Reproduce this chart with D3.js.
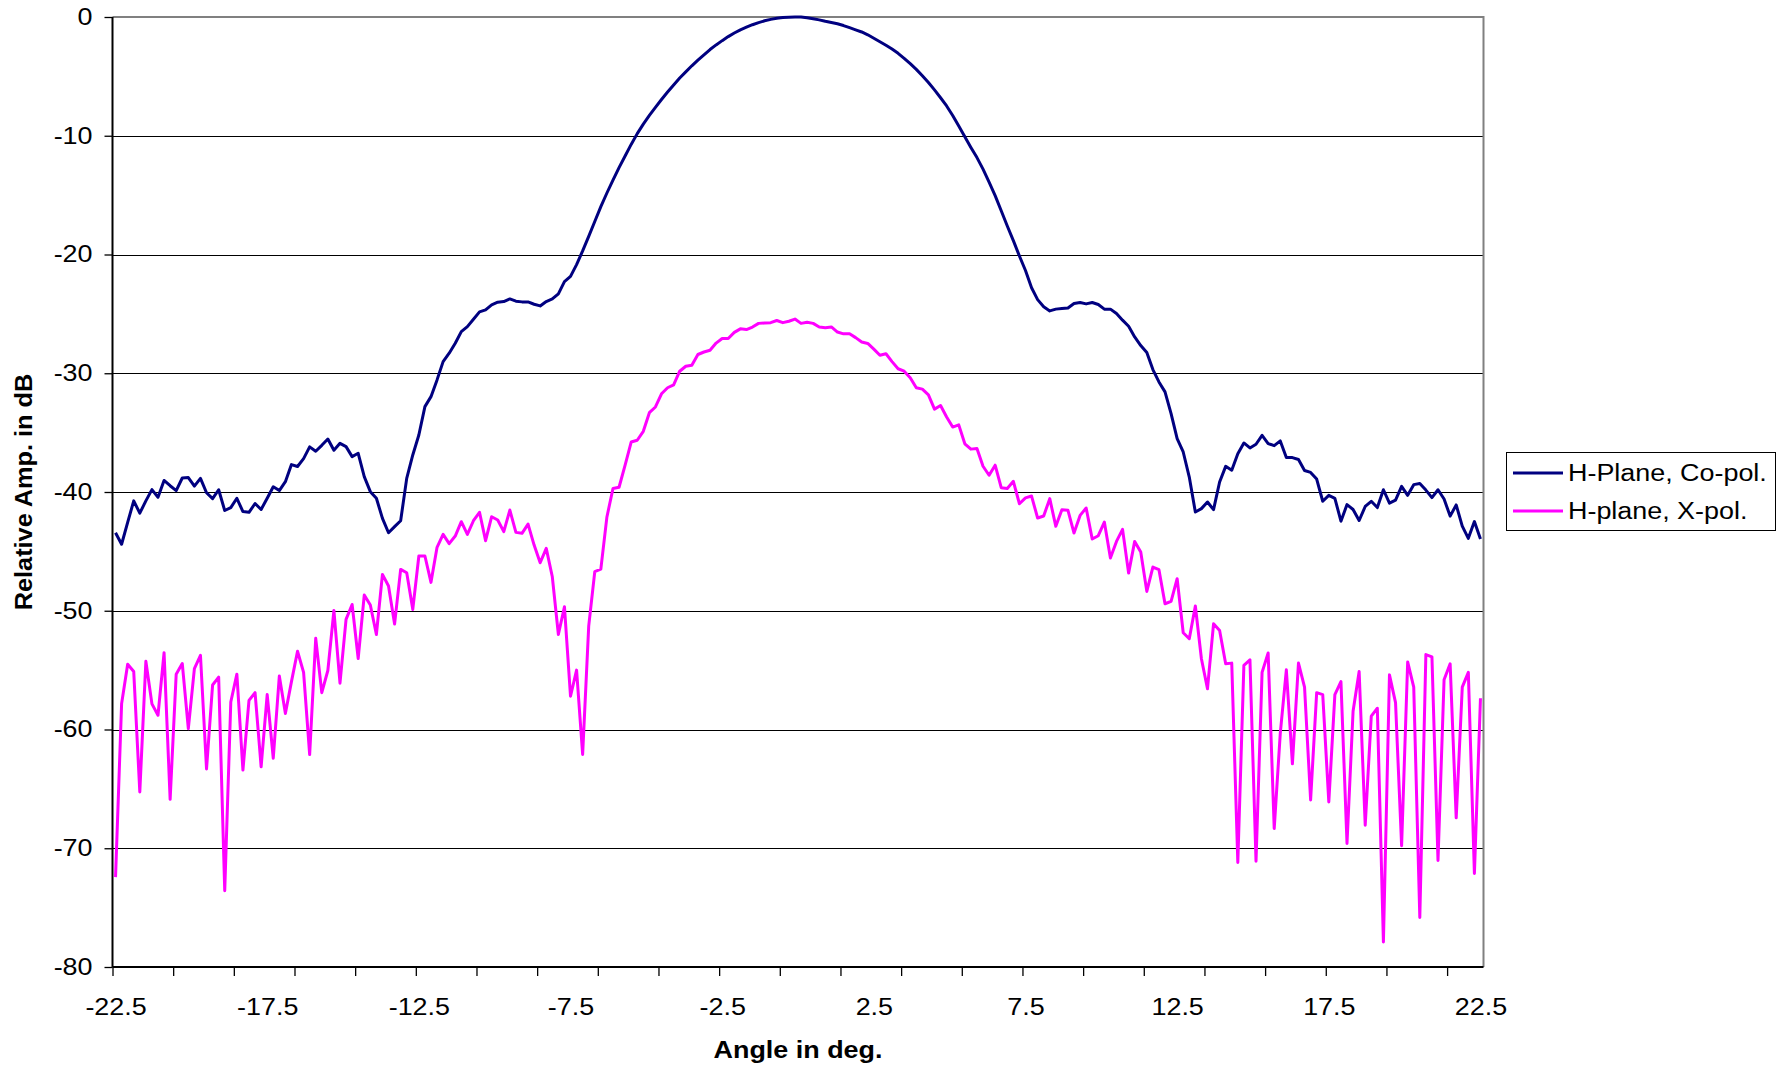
<!DOCTYPE html>
<html><head><meta charset="utf-8">
<script src="https://cdn.jsdelivr.net/npm/d3@7"></script>
<style>
body{margin:0;background:#fff}
svg{display:block}
text{font-family:"Liberation Sans",Arial,sans-serif;fill:#000}
</style>
</head><body>
<svg id="chart" width="1782" height="1070"></svg>
<script>
// ---- data ----
const angles = [
-22.5,-22.3,-22.1,-21.9,-21.7,-21.5,-21.3,-21.1,-20.9,-20.7,
-20.5,-20.3,-20.1,-19.9,-19.7,-19.5,-19.3,-19.1,-18.9,-18.7,
-18.5,-18.3,-18.1,-17.9,-17.7,-17.5,-17.3,-17.1,-16.9,-16.7,
-16.5,-16.3,-16.1,-15.9,-15.7,-15.5,-15.3,-15.1,-14.9,-14.7,
-14.5,-14.3,-14.1,-13.9,-13.7,-13.5,-13.3,-13.1,-12.9,-12.7,
-12.5,-12.3,-12.1,-11.9,-11.7,-11.5,-11.3,-11.1,-10.9,-10.7,
-10.5,-10.3,-10.1,-9.9,-9.7,-9.5,-9.3,-9.1,-8.9,-8.7,
-8.5,-8.3,-8.1,-7.9,-7.7,-7.5,-7.3,-7.1,-6.9,-6.7,
-6.5,-6.3,-6.1,-5.9,-5.7,-5.5,-5.3,-5.1,-4.9,-4.7,
-4.5,-4.3,-4.1,-3.9,-3.7,-3.5,-3.3,-3.1,-2.9,-2.7,
-2.5,-2.3,-2.1,-1.9,-1.7,-1.5,-1.3,-1.1,-0.9,-0.7,
-0.5,-0.3,-0.1,0.1,0.3,0.5,0.7,0.9,1.1,1.3,
1.5,1.7,1.9,2.1,2.3,2.5,2.7,2.9,3.1,3.3,
3.5,3.7,3.9,4.1,4.3,4.5,4.7,4.9,5.1,5.3,
5.5,5.7,5.9,6.1,6.3,6.5,6.7,6.9,7.1,7.3,
7.5,7.7,7.9,8.1,8.3,8.5,8.7,8.9,9.1,9.3,
9.5,9.7,9.9,10.1,10.3,10.5,10.7,10.9,11.1,11.3,
11.5,11.7,11.9,12.1,12.3,12.5,12.7,12.9,13.1,13.3,
13.5,13.7,13.9,14.1,14.3,14.5,14.7,14.9,15.1,15.3,
15.5,15.7,15.9,16.1,16.3,16.5,16.7,16.9,17.1,17.3,
17.5,17.7,17.9,18.1,18.3,18.5,18.7,18.9,19.1,19.3,
19.5,19.7,19.9,20.1,20.3,20.5,20.7,20.9,21.1,21.3,
21.5,21.7,21.9,22.1,22.3,22.5];

const coPol = [
-43.43,-44.4,-42.56,-40.75,-41.78,-40.75,-39.8,-40.44,-39.03,-39.47,
-39.88,-38.82,-38.78,-39.5,-38.85,-40.06,-40.56,-39.81,-41.56,-41.31,
-40.53,-41.65,-41.71,-40.97,-41.47,-40.53,-39.56,-39.88,-39.13,-37.69,
-37.85,-37.19,-36.2,-36.57,-36.07,-35.54,-36.48,-35.9,-36.18,-37.02,
-36.74,-38.71,-39.97,-40.53,-42.22,-43.43,-42.92,-42.42,-38.85,-36.88,
-35.2,-32.81,-31.97,-30.56,-29.02,-28.31,-27.47,-26.49,-26.07,-25.45,
-24.83,-24.66,-24.24,-24.02,-23.96,-23.74,-23.93,-23.99,-23.99,-24.19,
-24.33,-23.96,-23.74,-23.31,-22.28,-21.84,-20.85,-19.7,-18.47,-17.22,
-15.97,-14.82,-13.73,-12.68,-11.7,-10.73,-9.82,-9.02,-8.29,-7.61,
-6.95,-6.32,-5.72,-5.14,-4.62,-4.11,-3.63,-3.18,-2.74,-2.35,
-1.99,-1.65,-1.35,-1.08,-0.86,-0.65,-0.47,-0.32,-0.2,-0.11,
-0.05,-0.02,0,0,-0.06,-0.14,-0.24,-0.36,-0.46,-0.57,
-0.72,-0.9,-1.08,-1.26,-1.5,-1.79,-2.08,-2.38,-2.7,-3.06,
-3.48,-3.93,-4.41,-4.95,-5.52,-6.14,-6.8,-7.49,-8.29,-9.17,
-10.08,-10.98,-11.84,-12.81,-13.91,-15.04,-16.32,-17.6,-18.83,-20.13,
-21.35,-22.8,-23.8,-24.4,-24.75,-24.6,-24.55,-24.5,-24.13,-24.04,
-24.16,-24.04,-24.21,-24.6,-24.6,-24.97,-25.53,-26.04,-26.94,-27.67,
-28.26,-29.69,-30.73,-31.57,-33.4,-35.5,-36.63,-38.74,-41.69,-41.4,
-40.84,-41.49,-39.16,-37.84,-38.17,-36.77,-35.87,-36.29,-35.98,-35.23,
-35.92,-36.1,-35.7,-37.1,-37.1,-37.26,-38.19,-38.35,-38.91,-40.78,
-40.28,-40.53,-42.46,-41.06,-41.47,-42.4,-41.22,-40.78,-41.31,-39.81,
-40.94,-40.69,-39.53,-40.28,-39.38,-39.28,-39.84,-40.47,-39.81,-40.59,
-42.03,-41.09,-42.87,-43.9,-42.49,-43.96];

const xPol = [
-72.43,-57.84,-54.5,-55.12,-65.26,-54.25,-57.84,-58.8,-53.53,-65.88,
-55.34,-54.44,-59.93,-54.87,-53.75,-63.32,-56.25,-55.59,-73.58,-57.68,
-55.34,-63.42,-57.55,-56.9,-63.14,-57.06,-62.42,-55.5,-58.65,-55.97,
-53.41,-55.19,-62.11,-52.32,-56.9,-55.03,-49.98,-56.1,-50.73,-49.47,
-54.02,-48.68,-49.52,-52.0,-46.94,-47.92,-51.12,-46.52,-46.8,-49.89,
-45.39,-45.39,-47.61,-44.66,-43.57,-44.35,-43.71,-42.5,-43.57,-42.42,
-41.71,-44.1,-42.08,-42.36,-43.34,-41.52,-43.4,-43.48,-42.7,-44.47,
-45.96,-44.75,-47.14,-52.0,-49.66,-57.2,-55.0,-62.1,-51.3,-46.7,
-46.5,-42.1,-39.7,-39.6,-37.74,-35.79,-35.64,-34.89,-33.32,-32.84,
-31.73,-31.22,-30.98,-29.83,-29.41,-29.32,-28.42,-28.21,-28.06,-27.46,
-27.07,-27.07,-26.56,-26.26,-26.32,-26.11,-25.8,-25.77,-25.74,-25.56,
-25.74,-25.62,-25.44,-25.8,-25.71,-25.8,-26.1,-26.17,-26.1,-26.53,
-26.68,-26.68,-27.0,-27.37,-27.49,-27.97,-28.48,-28.36,-29.02,-29.62,
-29.83,-30.38,-31.22,-31.34,-31.82,-33.02,-32.72,-33.68,-34.53,-34.35,
-35.94,-36.39,-36.33,-37.83,-38.59,-37.74,-39.64,-39.7,-39.1,-40.99,
-40.5,-40.34,-42.19,-42.02,-40.56,-42.89,-41.49,-41.54,-43.46,-41.97,
-41.35,-43.96,-43.68,-42.53,-45.56,-44.16,-43.15,-46.83,-44.16,-45.06,
-48.37,-46.32,-46.54,-49.41,-49.21,-47.3,-51.85,-52.36,-49.6,-54.04,
-56.57,-51.1,-51.66,-54.47,-54.41,-71.2,-54.6,-54.13,-71.09,-55.19,
-53.56,-68.34,-60.33,-54.97,-62.89,-54.41,-56.43,-65.94,-56.9,-57.06,
-66.1,-57.06,-55.97,-69.59,-58.46,-55.12,-68.06,-58.87,-58.21,-77.89,
-55.4,-57.74,-69.78,-54.31,-56.43,-75.83,-53.69,-53.88,-71.03,-55.81,
-54.47,-67.44,-56.43,-55.19,-72.12,-57.37];

const yTickValues = [0,-10,-20,-30,-40,-50,-60,-70,-80];
const xTickLabels = [-22.5,-17.5,-12.5,-7.5,-2.5,2.5,7.5,12.5,17.5,22.5];
const seriesNames = ["H-Plane, Co-pol.","H-plane, X-pol."];
const seriesColors = ["#000080","#FF00FF"];
const xTitle = "Angle in deg.";
const yTitle = "Relative Amp. in dB";

// ---- layout ----
const P = {left:112.5, right:1483.5, top:17, bottom:967};
const SX = 1.17; // horizontal text stretch of the reference
const svg = d3.select("#chart");

// category axis: each category 0.2 deg wide, axis crosses between categories
const x = d3.scaleLinear().domain([-22.6, 22.6]).range([P.left, P.right]);
const y = d3.scaleLinear().domain([-80, 0]).range([P.bottom, P.top]);
const xTickMarks = d3.range(-22.6, 22.5, 2);

// gridlines
svg.append("g").selectAll("line").data(yTickValues.filter(v => v > -80 && v < 0)).join("line")
  .attr("x1", P.left).attr("x2", P.right)
  .attr("y1", d => Math.round(y(d)) + 0.5).attr("y2", d => Math.round(y(d)) + 0.5)
  .attr("stroke", "#000").attr("stroke-width", 1);

// plot border (top & right gray)
svg.append("path")
  .attr("d", `M${P.left},${P.top}H${P.right}V${P.bottom}`)
  .attr("fill", "none").attr("stroke", "#808080").attr("stroke-width", 2);

// y axis
const yAxis = svg.append("g").attr("transform", `translate(${P.left},0)`)
  .call(d3.axisLeft(y).tickValues(yTickValues).tickSize(8).tickPadding(12).tickFormat(d => String(d)));
yAxis.select(".domain").remove();
yAxis.selectAll(".tick line").attr("stroke", "#000").attr("stroke-width", 1.3);
yAxis.selectAll(".tick text")
  .attr("font-size", 23).attr("fill", "#000")
  .attr("font-family", '"Liberation Sans", Arial, sans-serif')
  .attr("transform", function(){ const X = +d3.select(this).attr("x"); return `translate(${X},0) scale(${SX},1) translate(${-X},0)`; });

// x axis tick marks
const xAxisMarks = svg.append("g").attr("transform", `translate(0,${P.bottom})`)
  .call(d3.axisBottom(x).tickValues(xTickMarks).tickSize(9).tickFormat(""));
xAxisMarks.select(".domain").remove();
xAxisMarks.selectAll(".tick line").attr("stroke", "#000").attr("stroke-width", 1.3);

// x axis labels
const xAxisLabels = svg.append("g").attr("transform", `translate(0,${P.bottom})`)
  .call(d3.axisBottom(x).tickValues(xTickLabels).tickSize(0).tickPadding(32).tickFormat(d => d.toFixed(1)));
xAxisLabels.select(".domain").remove();
xAxisLabels.selectAll(".tick text")
  .attr("font-size", 23).attr("fill", "#000")
  .attr("font-family", '"Liberation Sans", Arial, sans-serif')
  .attr("transform", `scale(${SX},1)`);

// axis lines
svg.append("line").attr("x1", P.left).attr("x2", P.left).attr("y1", P.top).attr("y2", P.bottom)
  .attr("stroke", "#000").attr("stroke-width", 2);
svg.append("line").attr("x1", P.left).attr("x2", P.right).attr("y1", P.bottom).attr("y2", P.bottom)
  .attr("stroke", "#000").attr("stroke-width", 2);

// series
const line = d3.line().x((d, i) => x(angles[i])).y(d => y(d));
[coPol, xPol].forEach((s, k) => {
  svg.append("path").datum(s)
    .attr("d", line).attr("fill", "none")
    .attr("stroke", seriesColors[k]).attr("stroke-width", 3)
    .attr("stroke-linejoin", "round");
});

// axis titles
svg.append("text")
  .attr("transform", `translate(${(P.left + P.right) / 2},1058) scale(${SX},1)`)
  .attr("text-anchor", "middle").attr("font-size", 23).attr("font-weight", "bold")
  .text(xTitle);
svg.append("text")
  .attr("transform", `translate(31.5,${(P.top + P.bottom) / 2}) rotate(-90) scale(1.1,1)`)
  .attr("text-anchor", "middle").attr("font-size", 23).attr("font-weight", "bold")
  .text(yTitle);

// legend
const lg = svg.append("g");
lg.append("rect").attr("x", 1506.5).attr("y", 452.5).attr("width", 269).attr("height", 78)
  .attr("fill", "#fff").attr("stroke", "#000").attr("stroke-width", 1);
seriesNames.forEach((n, k) => {
  const cy = 473 + k * 38;
  lg.append("line").attr("x1", 1513).attr("x2", 1563).attr("y1", cy).attr("y2", cy)
    .attr("stroke", seriesColors[k]).attr("stroke-width", 3);
  lg.append("text").attr("transform", `translate(1568,${cy + 8}) scale(${SX},1)`)
    .attr("font-size", 23).text(n);
});
</script>
</body></html>
